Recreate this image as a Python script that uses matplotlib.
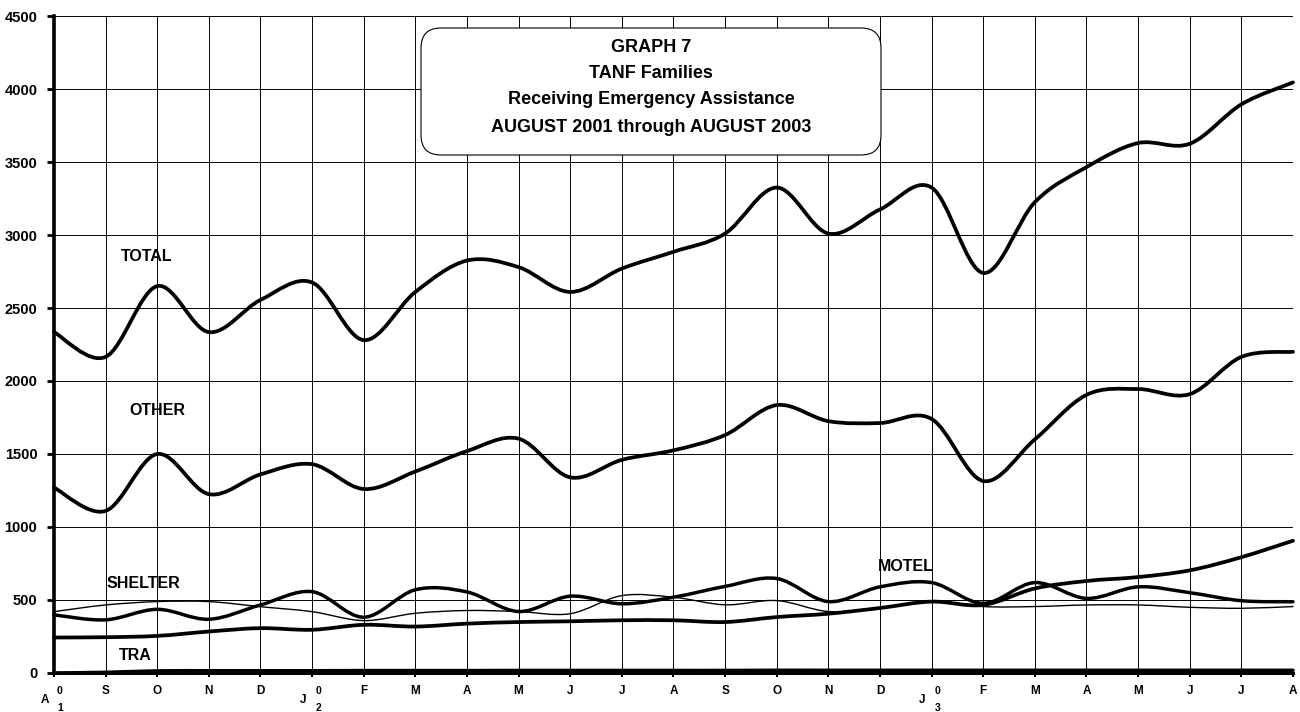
import numpy as np
import matplotlib.pyplot as plt
from matplotlib.path import Path
from matplotlib.patches import PathPatch, FancyBboxPatch

plt.rcParams['font.family'] = ['Liberation Sans', 'DejaVu Sans']

# ---- data (Aug 2001 .. Aug 2003, monthly) ----
months = ["A", "S", "O", "N", "D", "J", "F", "M", "A", "M", "J", "J",
          "A", "S", "O", "N", "D", "J", "F", "M", "A", "M", "J", "J", "A"]
year_marks = {0: "1", 5: "2", 17: "3"}   # tick index -> year digit

total = [2335, 2165, 2650, 2335, 2555, 2675, 2280, 2610, 2825, 2780, 2610, 2770,
         2885, 3010, 3325, 3010, 3175, 3325, 2740, 3225, 3465, 3630, 3625, 3895, 4045]
other = [1270, 1110, 1500, 1225, 1360, 1430, 1260, 1380, 1520, 1605, 1340, 1460,
         1525, 1630, 1835, 1725, 1712, 1740, 1315, 1600, 1905, 1945, 1910, 2165, 2200]
motel = [398, 364, 436, 368, 466, 557, 382, 570, 555, 421, 526, 474,
         519, 593, 647, 489, 590, 619, 477, 619, 511, 590, 550, 495, 488]
shelter = [420, 466, 489, 489, 454, 420, 359, 409, 428, 421, 406, 530,
           519, 467, 496, 421, 444, 493, 455, 455, 466, 466, 450, 443, 455]
tra = [243, 245, 254, 284, 307, 296, 330, 318, 338, 349, 354, 361,
       361, 349, 383, 406, 445, 489, 466, 579, 630, 657, 703, 793, 906]
base = [0, 4, 14, 15, 15, 15, 16, 16, 16, 17, 17, 17,
        17, 17, 18, 18, 18, 18, 18, 18, 18, 18, 18, 18, 18]

series_labels = [("TOTAL", 1.80, 2856), ("OTHER", 2.01, 1795), ("SHELTER", 1.74, 610),
                 ("TRA", 1.57, 123), ("MOTEL", 16.5, 726)]


def smooth_path(ys):
    # Excel-like smoothed line: cubic bezier segments through each point
    pts = np.column_stack([np.arange(len(ys)), ys]).astype(float)
    n = len(pts)
    verts = [pts[0]]
    codes = [Path.MOVETO]
    for i in range(n - 1):
        p0 = pts[i - 1] if i > 0 else pts[i]
        p1 = pts[i]
        p2 = pts[i + 1]
        p3 = pts[i + 2] if i + 2 < n else pts[i + 1]
        verts += [p1 + (p2 - p0) / 6, p2 - (p3 - p1) / 6, p2]
        codes += [Path.CURVE4] * 3
    return Path(verts, codes)


fig = plt.figure(figsize=(13, 7.12), dpi=100)
ax = fig.add_axes([0.0415, 0.0548, 0.9531, 0.9227])
ax.set_xlim(0, 24)
ax.set_ylim(0, 4500)

ax.set_xticks(range(len(months)))
ax.set_xticklabels([""] * len(months))
ax.set_yticks(range(0, 4501, 500))
ax.set_yticklabels([str(v) for v in range(0, 4501, 500)], fontsize=10.5, fontweight='bold')
ax.tick_params(axis='y', length=5, width=2, pad=7)
ax.tick_params(axis='x', length=3, width=1.5, direction='out')
ax.grid(True, color='black', lw=0.7)
ax.set_axisbelow(True)

for s in ['top', 'right']:
    ax.spines[s].set_visible(False)
ax.spines['left'].set_linewidth(2.6)
ax.spines['bottom'].set_linewidth(2.2)

for ys, lw in [(total, 2.7), (other, 2.7), (motel, 2.5), (shelter, 1.0), (tra, 2.7), (base, 2.6)]:
    ax.add_patch(PathPatch(smooth_path(ys), fill=False, lw=lw, ec='black',
                           capstyle='round', joinstyle='round', zorder=4, clip_on=False))

for name, x, y in series_labels:
    ax.text(x, y, name, fontsize=11.5, fontweight='bold', ha='center', va='center', zorder=5)

# month letters + year digits
for i, m in enumerate(months):
    if i in year_marks:
        ax.annotate(m, xy=(i, 0), xycoords=('data', 'axes fraction'), xytext=(-6.5, -19.5),
                    textcoords='offset points', ha='center', va='center',
                    fontsize=8.5, fontweight='bold')
        ax.annotate("0", xy=(i, 0), xycoords=('data', 'axes fraction'), xytext=(4.3, -13),
                    textcoords='offset points', ha='center', va='center',
                    fontsize=7.5, fontweight='bold')
        ax.annotate(year_marks[i], xy=(i, 0), xycoords=('data', 'axes fraction'), xytext=(4.3, -25),
                    textcoords='offset points', ha='center', va='center',
                    fontsize=7.5, fontweight='bold', annotation_clip=False)
    else:
        ax.annotate(m, xy=(i, 0), xycoords=('data', 'axes fraction'), xytext=(0, -13),
                    textcoords='offset points', ha='center', va='center',
                    fontsize=8.5, fontweight='bold')

# title box
box = FancyBboxPatch((4.21, 5.57), 4.60, 1.27, boxstyle="round,pad=0,rounding_size=0.2",
                     transform=fig.dpi_scale_trans, fc='white', ec='black', lw=0.8, zorder=6)
ax.add_patch(box)
title_lines = ["GRAPH 7", "TANF Families", "Receiving Emergency Assistance",
               "AUGUST 2001 through AUGUST 2003"]
for line, yy in zip(title_lines, [6.65, 6.39, 6.12, 5.85]):
    ax.text(6.51, yy, line, transform=fig.dpi_scale_trans, ha='center', va='center',
            fontsize=13, fontweight='bold', zorder=7)

fig.savefig("out.png", dpi=100)
